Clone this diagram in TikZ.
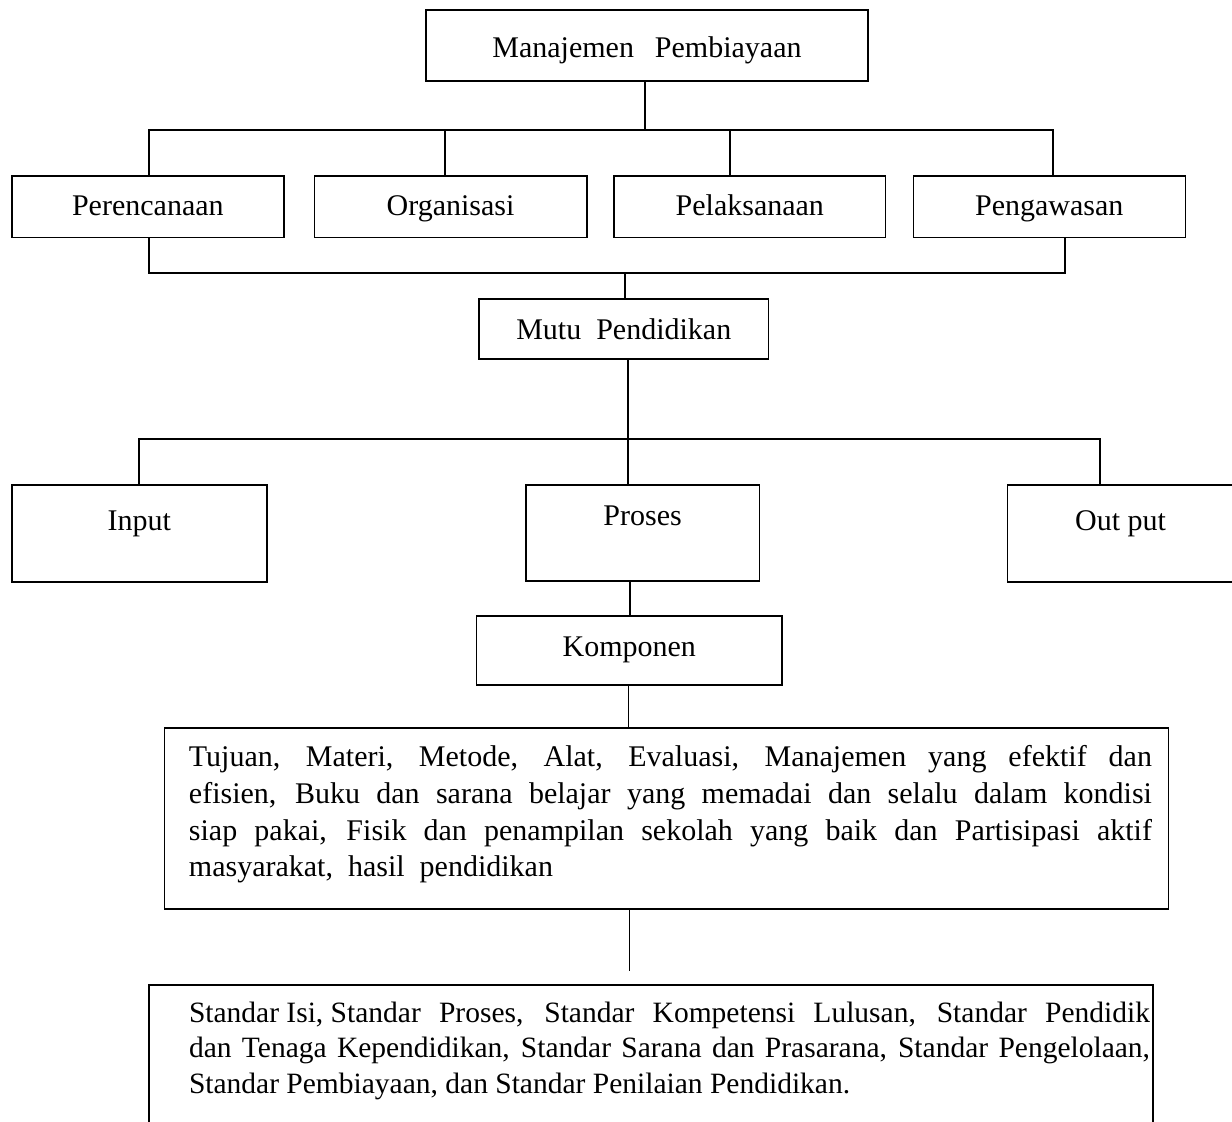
\documentclass[tikz,border=0pt]{standalone}
\usepackage{fontspec}
\setmainfont{Liberation Serif}
\newcommand{\myjline}[1]{\makebox[\linewidth][s]{#1}\par}
\begin{document}
\begin{tikzpicture}[x=1pt,y=-1pt,
  box/.style={draw, line width=1.6pt, inner xsep=0pt, inner ysep=0pt, outer sep=0pt,
              anchor=north west, font=\fontsize{30}{36}\selectfont},
  link/.style={line width=1.6pt}]
\useasboundingbox[fill=white] (0,0) rectangle (1232,1122);

% top
\node[box, minimum width=442pt, text height=47pt, text depth=24pt] (mp) at (426,10)
  {Manajemen\hspace{0.7em}Pembiayaan};

% row of four
\node[box, minimum width=272.3pt, text height=39.7pt, text depth=21.6pt] (per) at (11.7,176) {Perencanaan};
\node[box, minimum width=272.4pt, text height=39.7pt, text depth=21.6pt] (org) at (314.4,176) {Organisasi};
\node[box, minimum width=271.6pt, text height=39.7pt, text depth=21.6pt] (pel) at (614,176) {Pelaksanaan};
\node[box, minimum width=272pt, text height=39.7pt, text depth=21.6pt] (pen) at (913.3,176) {Pengawasan};

% mutu
\node[box, minimum width=289.6pt, text height=40pt, text depth=20pt] (mutu) at (479,299) {Mutu\ \ Pendidikan};

% input / proses / output
\node[box, minimum width=255pt, text height=45pt, text depth=52pt] (inp) at (11.9,485) {Input};
\node[box, minimum width=233.3pt, text height=40pt, text depth=56pt] (pro) at (526,485) {Proses};
\node[box, minimum width=226.7pt, text height=45pt, text depth=52pt] (out) at (1007.3,485) {Out put};

% komponen
\node[box, minimum width=305.5pt, text height=40.3pt, text depth=29pt] (komp) at (476.5,615.7) {Komponen};

% big box 1
\node[box, minimum width=1004.3pt, text height=39pt, text depth=142.3pt,
      font=\fontsize{30}{36.7}\selectfont] (b1) at (164.3,727.7)
  {\hspace*{8pt}\parbox[t]{963pt}{%
    \myjline{Tujuan, Materi, Metode, Alat, Evaluasi, Manajemen yang efektif dan}%
    \myjline{efisien, Buku dan sarana belajar yang memadai dan selalu dalam kondisi}%
    \myjline{siap pakai, Fisik dan penampilan sekolah yang baik dan Partisipasi aktif}%
    masyarakat,\ \ hasil\ \ pendidikan}};

% big box 2 (open at bottom)
\node[anchor=north west, inner sep=0pt, outer sep=0pt, minimum width=1004pt,
      text height=37pt, text depth=145pt, font=\fontsize{29.5}{35.5}\selectfont] (b2) at (149,985)
  {\hspace*{37pt}\parbox[t]{961pt}{%
    \myjline{Standar\hspace{0.25em}Isi,\hspace{0.25em}Standar Proses, Standar Kompetensi Lulusan, Standar Pendidik}%
    \myjline{dan Tenaga Kependidikan, Standar Sarana dan Prasarana, Standar Pengelolaan,}%
    Standar Pembiayaan, dan Standar Penilaian Pendidikan.}};
\draw[link] (b2.south west) -- (b2.north west) -- (b2.north east) -- (b2.south east);

% junction coordinates
\coordinate (t1) at (645,130);
\coordinate (c1) at (149,130);
\coordinate (c2) at (445,130);
\coordinate (c3) at (730,130);
\coordinate (c4) at (1052.7,130);
\coordinate (d1) at (149,272.7);
\coordinate (d2) at (1065,272.7);
\coordinate (d3) at (624.7,272.7);
\coordinate (e0) at (627.8,438.7);
\coordinate (e1) at (139,438.7);
\coordinate (e2) at (1100,438.7);
\coordinate (f)  at (630,600);
\coordinate (g)  at (628.3,700);
\coordinate (h)  at (629.6,971);

% connectors
\draw[link] (t1 |- mp.south) -- (t1);
\draw[link] (c1 |- per.north) -- (c1) -- (c4) -- (c4 |- pen.north);
\draw[link] (c2) -- (c2 |- org.north);
\draw[link] (c3) -- (c3 |- pel.north);
\draw[link] (d1 |- per.south) -- (d1) -- (d2) -- (d2 |- pen.south);
\draw[link] (d3) -- (d3 |- mutu.north);
\draw[link] (e0 |- mutu.south) -- (e0 |- pro.north);
\draw[link] (e1 |- inp.north) -- (e1) -- (e2) -- (e2 |- out.north);
\draw[link] (f |- pro.south) -- (f |- komp.north);
\draw[link] (g |- komp.south) -- (g |- b1.north);
\draw[link] (h |- b1.south) -- (h);
\end{tikzpicture}
\end{document}
